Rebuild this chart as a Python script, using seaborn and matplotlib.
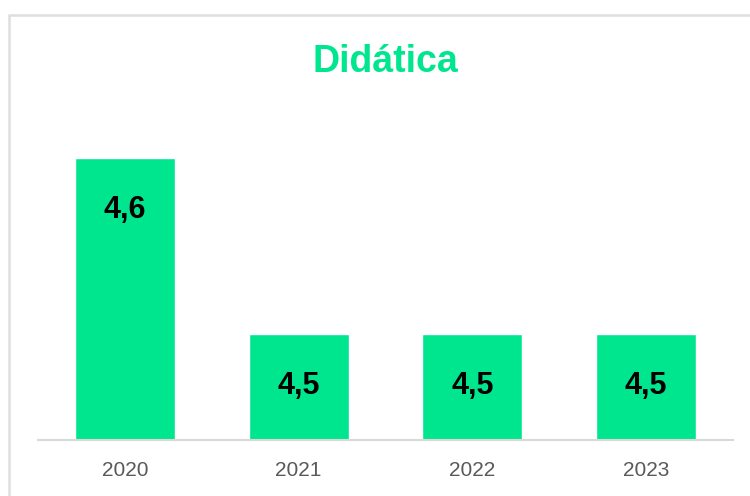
import matplotlib
matplotlib.use("Agg")
import matplotlib.pyplot as plt
import seaborn as sns
import pandas as pd
from matplotlib.patches import Rectangle

years = ["2020", "2021", "2022", "2023"]
scores = [4.6, 4.5, 4.5, 4.5]
title = "Didática"

green = "#00E68F"

sns.set_theme(style="white")
plt.rcParams['font.family'] = ['Liberation Sans', 'DejaVu Sans']

df = pd.DataFrame({"ano": years, "nota": scores})

fig = plt.figure(figsize=(7.5, 4.96), dpi=100)
ax = fig.add_axes([38 / 750, 1 - 440 / 496, 695 / 750, 340 / 496])

# card border
fig.patches.append(Rectangle((8.5 / 750, -0.1), 1.2, 1.1 - 15 / 496, transform=fig.transFigure,
                             fill=False, edgecolor="#dedede", linewidth=1.8))

sns.barplot(data=df, x="ano", y="nota", color=green, saturation=1, width=0.576, ax=ax)

ax.set_ylim(4.44, 4.44 + 340 / 1760)
ax.set_xlim(-0.5, 3.5)
ax.set_xlabel("")
ax.set_ylabel("")
ax.set_yticks([])
for s in ["top", "right", "left"]:
    ax.spines[s].set_visible(False)
ax.spines["bottom"].set_color("#d9d9d9")
ax.spines["bottom"].set_linewidth(1.5)
ax.tick_params(axis="x", length=0, pad=15, labelsize=15, labelcolor="#595959")

# value labels inside the bars, decimal comma
for bar, v in zip(ax.patches, scores):
    ax.annotate(f"{v:.1f}".replace(".", ","),
                (bar.get_x() + bar.get_width() / 2, bar.get_height()),
                xytext=(0, -37), textcoords="offset points",
                ha="center", va="center", fontsize=22, fontweight="bold", color="black")

fig.text((38 + 695 / 2) / 750, 1 - 62 / 496, title, ha="center", va="center",
         fontsize=27, fontweight="bold", color=green)

fig.savefig("out.png", dpi=100)
